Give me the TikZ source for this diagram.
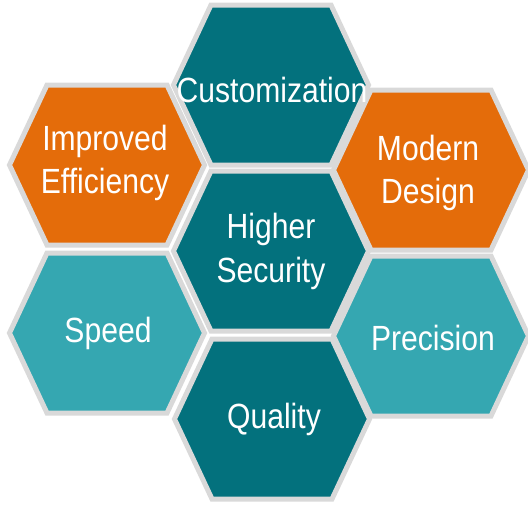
\documentclass[tikz,border=0pt]{standalone}
\usepackage{fontspec}
\setmainfont[FakeStretch=0.86]{Liberation Sans}
\definecolor{hexgray}{HTML}{D9D9D9}
\definecolor{darkteal}{HTML}{03717D}
\definecolor{lightteal}{HTML}{35A7B1}
\definecolor{hexorange}{HTML}{E46C0A}
\begin{document}
\begin{tikzpicture}[x=1pt,y=-1pt,
  hexborder/.style={draw=hexgray, line width=5pt, line join=miter},
  hexagon/.pic={\path[hexborder,pic actions] (-97.5,0) -- (-60,-80) -- (60,-80) -- (97.5,0) -- (60,80) -- (-60,80) -- cycle;},
  lbl/.style={text=white, font=\fontsize{35}{42}\selectfont, inner sep=0pt, anchor=base}]
\useasboundingbox (0,0) rectangle (528,504);
\pic[fill=darkteal] at (271,85) {hexagon};
\pic[fill=hexorange] at (107,165) {hexagon};
\pic[fill=hexorange] at (431,170) {hexagon};
\pic[fill=darkteal] at (271,251) {hexagon};
\pic[fill=lightteal] at (107,333) {hexagon};
\pic[fill=lightteal] at (431,336) {hexagon};
\pic[fill=darkteal] at (272,419) {hexagon};
\node[lbl] (cust) at (272,102) {Customization};
\node[lbl] (impr) at (105,150) {Improved};
\node[lbl] (effi) at (105,193) {Efficiency};
\node[lbl] (mod) at (428,160) {Modern};
\node[lbl] (des) at (428,203) {Design};
\node[lbl] (high) at (271,238) {Higher};
\node[lbl] (sec) at (271,282) {Security};
\node[lbl] (speed) at (108,342) {Speed};
\node[lbl] (prec) at (433,350) {Precision};
\node[lbl] (qual) at (274,428) {Quality};
\end{tikzpicture}
\end{document}
